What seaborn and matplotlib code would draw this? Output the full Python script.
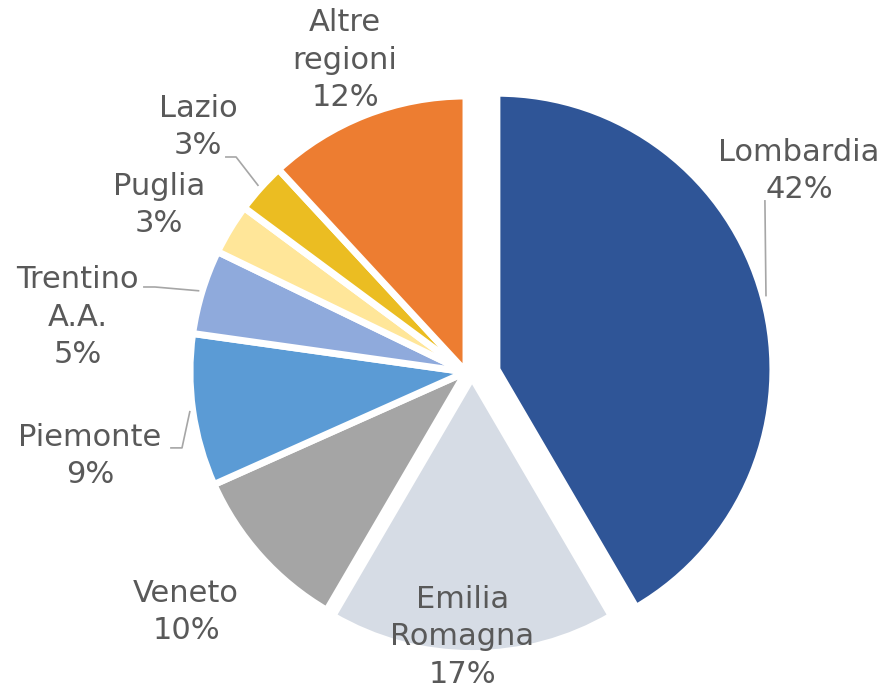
import matplotlib
matplotlib.use("Agg")
import matplotlib.pyplot as plt
import numpy as np
import seaborn as sns

# data (percent)
regions = ["Lombardia", "Emilia\nRomagna", "Veneto", "Piemonte",
           "Trentino\nA.A.", "Puglia", "Lazio", "Altre\nregioni"]
shares = [42, 17, 10, 9, 5, 3, 3, 12]
colors = ["#2F5597", "#D6DCE5", "#A5A5A5", "#5B9BD5",
          "#8FAADC", "#FFE699", "#EBBD22", "#ED7D31"]

# slice offsets (pulled-out slices), pie radius = 1
shift_x = [0.112, 0.022, 0, 0, 0, 0, 0, 0]
shift_y = [0.01, -0.02, 0, 0, 0, 0, 0, 0]

# label centres
label_pos = [(1.207, 0.728), (-0.014, -0.960), (-1.014, -0.870), (-1.362, -0.304),
             (-1.408, 0.199), (-1.112, 0.605), (-0.971, 0.888), (-0.438, 1.130)]
# leader lines: points from the label towards the wedge
leaders = {0: [(1.083, 0.623)],
           3: [(-1.072, -0.275), (-1.029, -0.275)],
           4: [(-1.170, 0.308), (-1.127, 0.308)],
           6: [(-0.873, 0.779), (-0.833, 0.779)]}

sns.set_theme(style="white")
plt.rcParams["font.family"] = ["DejaVu Sans"]
text_color = "#595959"

fig = plt.figure(figsize=(8.96, 6.88), dpi=100)
ax = fig.add_axes([0, 0, 1, 1])

wedges, _ = ax.pie(shares, colors=colors, startangle=90,
                   counterclock=False, radius=1,
                   wedgeprops=dict(edgecolor="white", linewidth=5))

for i, w in enumerate(wedges):
    w.set_center((shift_x[i], shift_y[i]))
    x, y = label_pos[i]
    ax.text(x, y, f"{regions[i]}\n{shares[i]}%", ha="center", va="center",
            fontsize=22, color=text_color, linespacing=1.38)
    if i in leaders:
        mid = np.deg2rad((w.theta1 + w.theta2) / 2)
        anchor = (shift_x[i] + np.cos(mid) * 1.01, shift_y[i] + np.sin(mid) * 1.01)
        pts = leaders[i] + [anchor]
        ax.plot([p[0] for p in pts], [p[1] for p in pts],
                color="#A6A6A6", lw=1.2, solid_capstyle="butt")

cx_pix, cy_pix, r_pix = 466, 372, 276
ax.set_xlim(-cx_pix / r_pix, (896 - cx_pix) / r_pix)
ax.set_ylim(-(688 - cy_pix) / r_pix, cy_pix / r_pix)
ax.set_aspect("equal")
ax.axis("off")

fig.savefig("out.png", dpi=100, facecolor="white")
